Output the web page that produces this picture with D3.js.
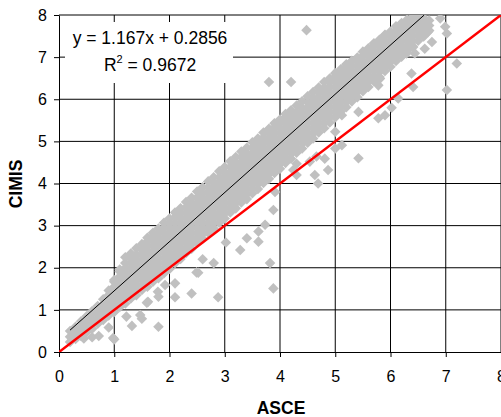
<!DOCTYPE html>
<html>
<head>
<meta charset="utf-8">
<script src="https://cdn.jsdelivr.net/npm/d3@7"></script>
<style>
  body { margin: 0; background: #fff; }
  svg { display: block; font-family: "Liberation Sans", Arial, sans-serif; }
</style>
</head>
<body>
<div id="chart"></div>
<script>
const width = 501, height = 417

// dense band of daily values, grouped by ASCE value
const bandAsce = [0.2, 0.3, 0.4, 0.5, 0.6, 0.7, 0.8, 0.9, 1.0, 1.1, 1.2, 1.3, 1.4, 1.5, 1.6, 1.7, 1.8, 1.9,
  2.0, 2.1, 2.2, 2.3, 2.4, 2.5, 2.6, 2.7, 2.8, 2.9, 3.0, 3.1, 3.2, 3.3, 3.4, 3.5, 3.6, 3.7, 3.8, 3.9,
  4.0, 4.1, 4.2, 4.3, 4.4, 4.5, 4.6, 4.7, 4.8, 4.9, 5.0, 5.1, 5.2, 5.3, 5.4, 5.5, 5.6, 5.7, 5.8, 5.9,
  6.0, 6.1, 6.2, 6.3, 6.4, 6.5, 6.6, 6.7]
const bandCimis = [
  [0.24, 0.36, 0.50],
  [0.31, 0.43, 0.55, 0.60],
  [0.38, 0.50, 0.62, 0.73],
  [0.47, 0.59, 0.71, 0.85],
  [0.55, 0.67, 0.79, 0.91, 0.97],
  [0.67, 0.79, 0.91, 1.03, 1.09],
  [0.76, 0.88, 1.00, 1.12, 1.25],
  [0.87, 0.99, 1.11, 1.23, 1.35, 1.46],
  [0.95, 1.07, 1.19, 1.31, 1.43, 1.55, 1.67, 1.71],
  [1.07, 1.19, 1.31, 1.42, 1.55, 1.67, 1.79, 1.91, 1.96],
  [1.15, 1.27, 1.39, 1.51, 1.63, 1.75, 1.87, 1.99, 2.11, 2.25],
  [1.27, 1.39, 1.50, 1.63, 1.75, 1.87, 1.99, 2.11, 2.23, 2.34],
  [1.35, 1.47, 1.59, 1.71, 1.83, 1.95, 2.07, 2.19, 2.31, 2.46],
  [1.47, 1.59, 1.71, 1.83, 1.94, 2.07, 2.19, 2.31, 2.43, 2.56],
  [1.55, 1.67, 1.79, 1.91, 2.03, 2.15, 2.27, 2.39, 2.51, 2.63, 2.71],
  [1.67, 1.79, 1.91, 2.03, 2.15, 2.27, 2.38, 2.51, 2.63, 2.75, 2.83],
  [1.75, 1.87, 1.99, 2.11, 2.23, 2.35, 2.47, 2.59, 2.71, 2.83, 2.93],
  [1.87, 1.99, 2.11, 2.23, 2.35, 2.47, 2.59, 2.71, 2.83, 2.95, 3.07],
  [1.97, 2.09, 2.21, 2.33, 2.45, 2.57, 2.69, 2.81, 2.93, 3.05, 3.17],
  [2.11, 2.23, 2.35, 2.47, 2.59, 2.70, 2.83, 2.95, 3.07, 3.19, 3.31],
  [2.21, 2.33, 2.45, 2.57, 2.69, 2.81, 2.93, 3.05, 3.17, 3.29, 3.41],
  [2.35, 2.47, 2.59, 2.71, 2.83, 2.95, 3.07, 3.19, 3.31, 3.43, 3.56],
  [2.45, 2.57, 2.69, 2.81, 2.93, 3.05, 3.17, 3.29, 3.41, 3.53, 3.66],
  [2.59, 2.71, 2.83, 2.95, 3.07, 3.19, 3.31, 3.43, 3.55, 3.67, 3.81],
  [2.69, 2.81, 2.93, 3.05, 3.17, 3.29, 3.41, 3.53, 3.65, 3.77, 3.91],
  [2.83, 2.95, 3.07, 3.19, 3.31, 3.43, 3.55, 3.67, 3.79, 3.91, 4.05],
  [2.93, 3.05, 3.17, 3.29, 3.41, 3.53, 3.65, 3.77, 3.89, 4.01, 4.15],
  [3.07, 3.19, 3.31, 3.43, 3.55, 3.67, 3.79, 3.91, 4.03, 4.15, 4.29],
  [3.17, 3.29, 3.41, 3.53, 3.65, 3.77, 3.89, 4.01, 4.13, 4.25, 4.39],
  [3.31, 3.43, 3.55, 3.67, 3.79, 3.91, 4.03, 4.15, 4.27, 4.39, 4.53],
  [3.41, 3.53, 3.65, 3.77, 3.89, 4.01, 4.13, 4.25, 4.37, 4.49, 4.63],
  [3.55, 3.67, 3.79, 3.91, 4.03, 4.15, 4.27, 4.39, 4.51, 4.63, 4.76],
  [3.63, 3.75, 3.87, 3.99, 4.11, 4.23, 4.35, 4.47, 4.59, 4.71, 4.85],
  [3.77, 3.89, 4.01, 4.13, 4.25, 4.37, 4.49, 4.61, 4.73, 4.85, 4.98],
  [3.87, 3.99, 4.11, 4.23, 4.35, 4.47, 4.59, 4.71, 4.83, 4.95, 5.07],
  [4.01, 4.13, 4.25, 4.37, 4.49, 4.61, 4.73, 4.85, 4.97, 5.09, 5.21],
  [4.11, 4.23, 4.35, 4.47, 4.59, 4.71, 4.83, 4.95, 5.07, 5.19, 5.30],
  [4.25, 4.37, 4.49, 4.61, 4.73, 4.85, 4.97, 5.09, 5.21, 5.33, 5.43],
  [4.35, 4.47, 4.59, 4.71, 4.83, 4.95, 5.07, 5.19, 5.31, 5.43, 5.52],
  [4.49, 4.61, 4.73, 4.85, 4.97, 5.09, 5.21, 5.33, 5.45, 5.57, 5.65],
  [4.59, 4.71, 4.83, 4.95, 5.07, 5.19, 5.31, 5.43, 5.55, 5.67, 5.74],
  [4.73, 4.85, 4.97, 5.09, 5.21, 5.33, 5.45, 5.57, 5.69, 5.85],
  [4.83, 4.95, 5.07, 5.19, 5.31, 5.43, 5.55, 5.67, 5.79, 5.95],
  [4.97, 5.09, 5.21, 5.33, 5.45, 5.57, 5.69, 5.81, 5.93, 6.07],
  [5.07, 5.19, 5.31, 5.43, 5.55, 5.67, 5.79, 5.91, 6.03, 6.17],
  [5.21, 5.33, 5.45, 5.57, 5.69, 5.81, 5.93, 6.05, 6.17, 6.28],
  [5.31, 5.43, 5.55, 5.67, 5.79, 5.91, 6.03, 6.15, 6.27, 6.41],
  [5.45, 5.57, 5.69, 5.81, 5.93, 6.05, 6.17, 6.29, 6.41, 6.49],
  [5.57, 5.69, 5.81, 5.93, 6.05, 6.17, 6.29, 6.41, 6.53, 6.62],
  [5.71, 5.83, 5.95, 6.07, 6.19, 6.31, 6.43, 6.55, 6.67, 6.71],
  [5.81, 5.93, 6.05, 6.17, 6.29, 6.41, 6.53, 6.65, 6.77, 6.83],
  [5.95, 6.07, 6.19, 6.31, 6.43, 6.55, 6.67, 6.79, 6.91],
  [6.05, 6.17, 6.29, 6.41, 6.53, 6.65, 6.77, 6.89, 6.99],
  [6.19, 6.31, 6.43, 6.55, 6.67, 6.79, 6.91, 7.03, 7.13],
  [6.29, 6.41, 6.53, 6.65, 6.77, 6.89, 7.01, 7.13, 7.21],
  [6.43, 6.55, 6.67, 6.79, 6.91, 7.03, 7.15, 7.27, 7.33],
  [6.53, 6.65, 6.77, 6.89, 7.01, 7.13, 7.25, 7.37, 7.41],
  [6.67, 6.79, 6.91, 7.03, 7.15, 7.27, 7.39, 7.51, 7.53],
  [6.77, 6.89, 7.01, 7.13, 7.25, 7.37, 7.49, 7.61],
  [6.91, 7.03, 7.15, 7.27, 7.39, 7.51, 7.63, 7.73],
  [7.01, 7.13, 7.25, 7.37, 7.49, 7.61, 7.73, 7.81],
  [7.15, 7.27, 7.39, 7.51, 7.63, 7.75, 7.89],
  [7.25, 7.37, 7.49, 7.61, 7.73, 7.85, 7.95],
  [7.39, 7.51, 7.63, 7.75, 7.87, 7.95],
  [7.49, 7.61, 7.73, 7.85, 7.93],
  [7.63, 7.75, 7.87]
]

// scattered values away from the band
const sparseAsce = [0.45, 0.6, 0.72, 0.9, 0.98, 1.0, 1.22, 1.32, 1.47, 1.50, 1.59, 1.61, 1.79, 1.80, 1.80, 1.92,
  2.10, 2.10, 2.40, 2.49, 2.52, 2.60, 2.80, 2.88, 3.02, 3.28, 3.40, 3.61, 3.61, 3.73, 3.82, 3.88, 3.88, 3.91,
  4.24, 4.30, 4.30, 4.54, 4.63, 4.66, 4.69, 4.81, 4.87, 5.00, 5.00, 5.12, 5.12, 5.42, 5.42, 5.78, 5.78, 5.81,
  5.90, 6.02, 6.14, 6.29, 6.38, 6.41, 6.41, 6.44, 6.59, 6.62, 6.68, 6.75, 6.90, 6.99, 7.02, 7.02, 7.20,
  3.80, 4.20, 4.48]
const sparseCimis = [0.32, 0.35, 0.38, 0.58, 0.33, 0.30, 0.84, 0.62, 0.88, 0.79, 1.17, 1.19, 1.43, 0.60, 1.31, 1.59,
  1.30, 1.63, 1.39, 1.89, 1.88, 2.20, 2.11, 1.30, 2.60, 2.42, 2.70, 2.62, 2.86, 3.02, 2.11, 3.37, 1.51, 3.80,
  4.32, 4.20, 4.47, 4.52, 4.20, 4.64, 4.00, 4.59, 4.32, 4.83, 5.23, 4.91, 5.62, 4.60, 5.70, 5.55, 6.33, 6.49,
  5.62, 5.80, 6.02, 7.09, 6.61, 6.29, 7.24, 7.09, 7.84, 7.20, 7.60, 7.36, 7.92, 7.72, 6.22, 7.56, 6.85,
  6.41, 6.41, 7.64]

const slope = 1.167, intercept = 0.2856, rSquared = 0.9672
const trendFrom = 0.2
const axisTicks = [0, 1, 2, 3, 4, 5, 6, 7, 8]

const points = []
bandAsce.forEach((a, i) => bandCimis[i].forEach(c => points.push([a, c])))
sparseAsce.forEach((a, i) => points.push([a, sparseCimis[i]]))

const x = d3.scaleLinear().domain([0, 8]).range([59, 501])
const y = d3.scaleLinear().domain([0, 8]).range([352, 15])

const svg = d3.select('#chart').append('svg')
  .attr('width', width)
  .attr('height', height)

svg.append('defs').append('clipPath').attr('id', 'plot')
  .append('rect')
  .attr('x', x(0)).attr('y', y(8))
  .attr('width', x(8) - x(0)).attr('height', y(0) - y(8))

// grid
const grid = svg.append('g').attr('stroke', '#000').attr('stroke-width', 1)
grid.selectAll('line.v').data(axisTicks.slice(1)).join('line')
  .attr('class', 'v')
  .attr('x1', d => x(d)).attr('x2', d => x(d))
  .attr('y1', y(0)).attr('y2', y(8))
grid.selectAll('line.h').data(axisTicks.slice(1)).join('line')
  .attr('class', 'h')
  .attr('x1', x(0)).attr('x2', x(8))
  .attr('y1', d => y(d)).attr('y2', d => y(d))

// axes
svg.append('g')
  .attr('transform', `translate(0,${y(0)})`)
  .call(d3.axisBottom(x).tickValues(axisTicks).tickFormat(d3.format('d')).tickSize(5).tickSizeOuter(0).tickPadding(14))
svg.append('g')
  .attr('transform', `translate(${x(0)},0)`)
  .call(d3.axisLeft(y).tickValues(axisTicks).tickFormat(d3.format('d')).tickSize(5).tickSizeOuter(0).tickPadding(7))
svg.selectAll('.tick text')
  .attr('font-family', '"Liberation Sans", Arial, sans-serif')
  .attr('font-size', 16)
  .attr('fill', '#000')
svg.selectAll('.domain, .tick line').attr('stroke', '#000')

// equation label box
svg.append('rect')
  .attr('x', 65).attr('y', 22)
  .attr('width', 168).attr('height', 61)
  .attr('fill', '#fff')

// diamond markers
const diamond = {
  draw(context, size) {
    const r = Math.sqrt(size / 2)
    context.moveTo(0, -r)
    context.lineTo(r, 0)
    context.lineTo(0, r)
    context.lineTo(-r, 0)
    context.closePath()
  }
}

svg.append('g')
  .attr('clip-path', 'url(#plot)')
  .selectAll('path')
  .data(points)
  .join('path')
  .attr('transform', d => `translate(${x(d[0])},${y(d[1])})`)
  .attr('d', d3.symbol().type(diamond).size(56))
  .attr('fill', '#c0c0c0')

const line = d3.line().x(d => x(d[0])).y(d => y(d[1]))

// 1:1 line
svg.append('path')
  .attr('clip-path', 'url(#plot)')
  .attr('d', line([[0, 0], [8, 8]]))
  .attr('stroke', '#ff0000')
  .attr('stroke-width', 2.5)
  .attr('fill', 'none')

// linear trend line
const trendTo = (8 - intercept) / slope
svg.append('path')
  .attr('clip-path', 'url(#plot)')
  .attr('d', line([[trendFrom, slope * trendFrom + intercept], [trendTo, 8]]))
  .attr('stroke', '#000')
  .attr('stroke-width', 1)
  .attr('fill', 'none')

// equation text
svg.append('text')
  .attr('x', 150).attr('y', 44)
  .attr('text-anchor', 'middle')
  .attr('font-size', 17.5)
  .text(`y = ${slope}x + ${intercept}`)

const r2 = svg.append('text')
  .attr('x', 150).attr('y', 71)
  .attr('text-anchor', 'middle')
  .attr('font-size', 17.5)
r2.append('tspan').text('R')
r2.append('tspan').attr('font-size', 11).attr('dy', -8).text('2')
r2.append('tspan').attr('dy', 8).text(` = ${rSquared}`)

// axis titles
svg.append('text')
  .attr('x', 281).attr('y', 414)
  .attr('text-anchor', 'middle')
  .attr('font-size', 17.5)
  .attr('font-weight', 'bold')
  .text('ASCE')

svg.append('text')
  .attr('transform', 'translate(22,184) rotate(-90)')
  .attr('text-anchor', 'middle')
  .attr('font-size', 17.5)
  .attr('font-weight', 'bold')
  .text('CIMIS')
</script>
</body>
</html>
